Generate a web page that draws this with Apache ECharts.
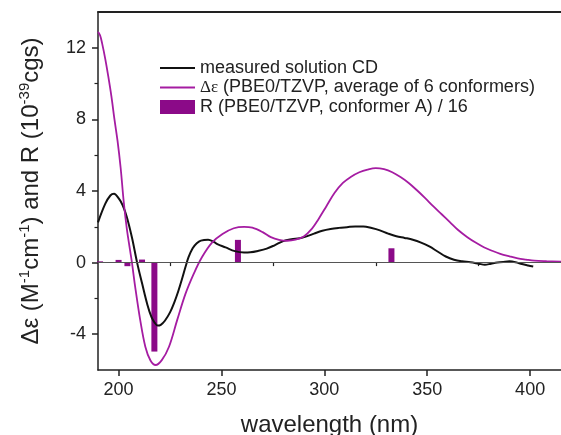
<!DOCTYPE html>
<html>
<head>
<meta charset="utf-8">
<script src="https://cdn.jsdelivr.net/npm/echarts@6/dist/echarts.min.js"></script>
<style>
  html, body { margin: 0; padding: 0; background: #fff; }
  #chart { width: 561px; height: 435px; }
</style>
</head>
<body>
<div id="chart"></div>
<script>
// Measured solution CD spectrum (nm, Δε)
const measuredNm = [190, 193.5, 196, 197.8, 200, 202, 204, 206.5, 209, 211.5, 214, 216, 217.5, 219, 220.5, 222.5, 225, 227, 229, 231, 232.5, 234, 236, 238, 240, 243.5, 246, 248, 252, 256.5, 261, 264, 268, 272, 276, 280, 284, 288, 291, 295, 299, 303, 307, 311, 315, 319, 323, 327, 331, 335, 339, 343, 347, 351, 355, 359, 363, 367, 371, 375, 378, 381, 384, 387, 390, 393, 396, 399, 401.5];
const measuredCD = [2.25, 3.28, 3.75, 3.85, 3.6, 3.2, 2.55, 1.4, 0, -1.2, -2.35, -3.05, -3.35, -3.52, -3.48, -3.25, -2.78, -2.25, -1.6, -0.85, -0.25, 0.3, 0.8, 1.08, 1.23, 1.28, 1.18, 1.03, 0.85, 0.64, 0.57, 0.58, 0.66, 0.78, 0.98, 1.2, 1.3, 1.36, 1.45, 1.62, 1.78, 1.88, 1.94, 1.98, 2.02, 2.02, 1.93, 1.8, 1.62, 1.47, 1.38, 1.28, 1.12, 0.9, 0.62, 0.34, 0.16, 0.07, 0.02, -0.06, -0.12, -0.06, 0.0, 0.04, 0.07, 0.02, -0.08, -0.16, -0.22];

// Calculated Δε, PBE0/TZVP, average of 6 conformers
const calcNm = [190, 191, 192, 193.5, 195, 196.5, 198, 199.5, 201, 202.5, 204, 205.5, 206.5, 208, 210.5, 213, 215.5, 218, 221, 224.5, 228.5, 232.5, 236.5, 240.5, 245.5, 250.5, 256, 261, 265, 270, 274, 278, 282, 286, 290, 294, 297, 301, 305, 309, 313, 317, 321, 325, 329, 333, 337, 341, 345, 349, 353, 357, 361, 365, 369.5, 373.5, 377.5, 381.5, 385.5, 390, 394, 398, 402, 408, 415];
const calcDeltaEps = [12.9, 12.7, 12.25, 11.4, 10.4, 9.3, 8.0, 6.8, 5.3, 3.4, 1.9, 0.75, 0, -1.3, -3.2, -4.7, -5.47, -5.72, -5.45, -4.7, -3.2, -1.75, -0.63, 0.3, 1.13, 1.6, 1.92, 2.0, 1.95, 1.7, 1.42, 1.27, 1.22, 1.28, 1.46, 1.9, 2.4, 3.15, 3.9, 4.45, 4.8, 5.05, 5.2, 5.28, 5.22, 5.05, 4.78, 4.45, 4.04, 3.6, 3.14, 2.7, 2.26, 1.82, 1.42, 1.12, 0.86, 0.66, 0.49, 0.35, 0.24, 0.17, 0.11, 0.08, 0.06];

// Rotatory strengths of conformer A, scaled by 1/16
const stickNm = [191, 200, 204.3, 211.4, 217.4, 258, 332.6];
const stickR = [0.07, 0.15, -0.2, 0.17, -4.97, 1.27, 0.8];

// Axis ticks
const xMajorTicks = [200, 250, 300, 350, 400];
const xMinorTicks = [225, 275, 325, 375];
const yMajorTicks = [-4, 0, 4, 8, 12];
const yMinorTicks = [-2, 2, 6, 10];

const pairs = (xs, ys) => xs.map((x, i) => [x, ys[i]]);

const FONT = 'Liberation Sans';
const INK = '#222';
const LINE_PURPLE = '#A51CA2';
const BAR_PURPLE = '#8B0A88';
// thin horizontal stroke used as the legend key of the line series
const LINE_KEY = 'path://M0,0L35,0L35,2L0,2Z';

const xRange = { min: 190, max: 415 };
const yRange = { min: -6, max: 14 };

const chart = echarts.init(document.getElementById('chart'), null, { renderer: 'canvas' });

chart.setOption({
  animation: false,
  backgroundColor: '#fff',
  textStyle: { fontFamily: FONT, color: INK },
  grid: { left: 98, right: 0, top: 12, bottom: 65, containLabel: false, outerBoundsMode: 'none' },
  legend: {
    orient: 'vertical',
    left: 160,
    top: 59,
    padding: 0,
    itemWidth: 35,
    itemHeight: 14,
    itemGap: 1.5,
    selectedMode: false,
    data: [
      { name: 'measured', icon: LINE_KEY },
      { name: 'calc', icon: LINE_KEY },
      { name: 'stick', icon: 'rect' }
    ],
    formatter: function (name) {
      if (name === 'measured') return 'measured solution CD';
      if (name === 'calc') return '{g|Δε} (PBE0/TZVP, average of 6 conformers)';
      return 'R (PBE0/TZVP, conformer A) / 16';
    },
    textStyle: {
      fontFamily: FONT, fontSize: 18, color: INK,
      rich: { g: { fontFamily: 'Liberation Serif', fontSize: 17, color: INK } }
    }
  },
  xAxis: [
    {
      type: 'value', position: 'bottom', ...xRange,
      name: 'wavelength (nm)', nameLocation: 'middle', nameGap: 43,
      nameTextStyle: { fontFamily: FONT, fontSize: 24, color: INK },
      axisLine: { show: true, onZero: false, lineStyle: { color: INK, width: 1.5 } },
      axisTick: { show: true, customValues: xMajorTicks, length: 6, lineStyle: { color: INK, width: 1.5 } },
      axisLabel: { customValues: xMajorTicks, fontFamily: FONT, fontSize: 18, color: INK, margin: 11 },
      splitLine: { show: false }
    },
    {
      type: 'value', position: 'bottom', ...xRange,
      axisLine: { show: false },
      axisTick: { show: true, customValues: xMinorTicks, length: 3.5, lineStyle: { color: INK, width: 1.2 } },
      axisLabel: { show: false },
      splitLine: { show: false }
    },
    {
      type: 'value', position: 'top', ...xRange,
      axisLine: { show: true, onZero: false, lineStyle: { color: INK, width: 1.8 } },
      axisTick: { show: false },
      axisLabel: { show: false },
      splitLine: { show: false }
    }
  ],
  yAxis: [
    {
      type: 'value', position: 'left', ...yRange,
      name: '{t|Δε (M}{s|-1}{t|cm}{s|-1}{t|) and R (10}{s|-39}{t|cgs)}',
      nameLocation: 'middle', nameGap: 55, nameRotate: 90,
      nameTextStyle: {
        fontFamily: FONT, fontSize: 24, color: INK,
        rich: {
          t: { fontFamily: FONT, fontSize: 24, color: INK, lineHeight: 26, verticalAlign: 'bottom' },
          s: { fontFamily: FONT, fontSize: 15, color: INK, lineHeight: 26, verticalAlign: 'top' }
        }
      },
      axisLine: { show: true, onZero: false, lineStyle: { color: INK, width: 1.5 } },
      axisTick: { show: true, customValues: yMajorTicks, length: 6, lineStyle: { color: INK, width: 1.5 } },
      axisLabel: { customValues: yMajorTicks, fontFamily: FONT, fontSize: 18, color: INK, margin: 12 },
      splitLine: { show: false }
    },
    {
      type: 'value', position: 'left', ...yRange,
      axisLine: { show: false },
      axisTick: { show: true, customValues: yMinorTicks, length: 3.5, lineStyle: { color: INK, width: 1.2 } },
      axisLabel: { show: false },
      splitLine: { show: false }
    }
  ],
  series: [
    {
      name: 'stick',
      type: 'bar',
      barWidth: 6,
      data: pairs(stickNm, stickR),
      itemStyle: { color: BAR_PURPLE },
      markLine: {
        silent: true,
        symbol: 'none',
        label: { show: false },
        lineStyle: { color: '#555', width: 1.2, type: 'solid' },
        data: [{ yAxis: 0 }]
      },
      z: 2
    },
    {
      name: 'measured',
      type: 'line',
      data: pairs(measuredNm, measuredCD),
      symbol: 'none',
      smooth: 0.35,
      lineStyle: { color: '#111', width: 2 },
      itemStyle: { color: '#111' },
      z: 3
    },
    {
      name: 'calc',
      type: 'line',
      data: pairs(calcNm, calcDeltaEps),
      symbol: 'none',
      smooth: 0.35,
      lineStyle: { color: LINE_PURPLE, width: 1.8 },
      itemStyle: { color: LINE_PURPLE },
      z: 4
    }
  ]
});
</script>
</body>
</html>
